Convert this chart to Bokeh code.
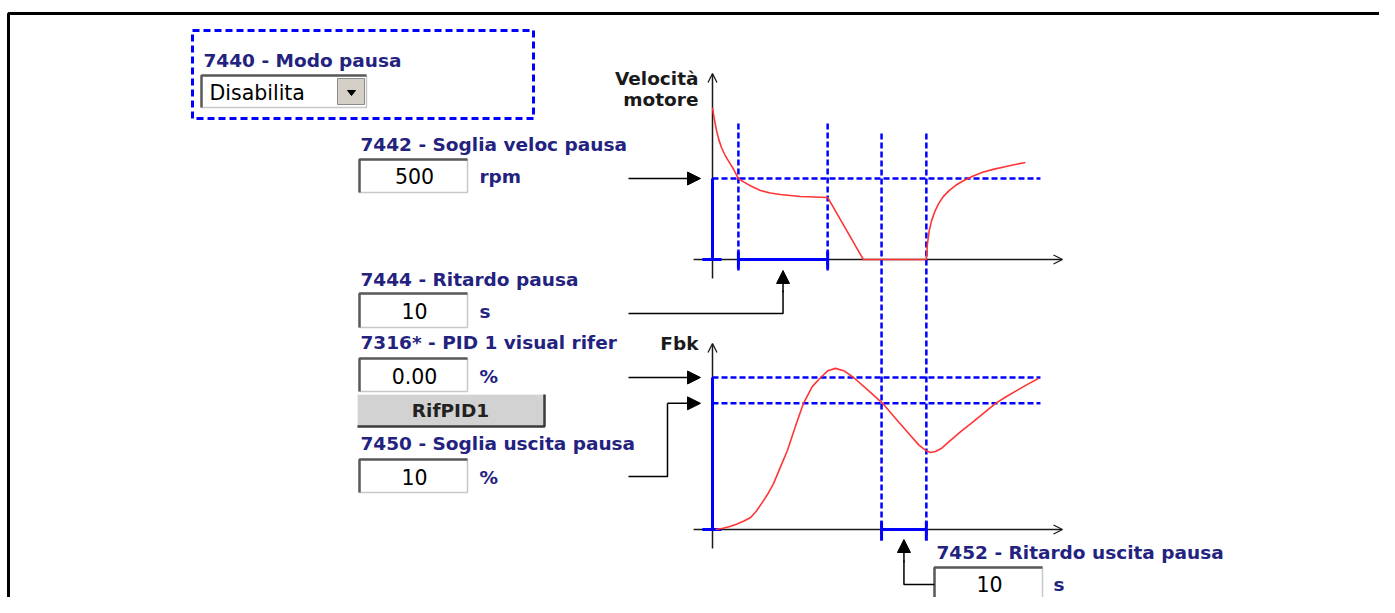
from bokeh.plotting import figure
from bokeh.models import Range1d, Arrow, NormalHead, OpenHead
from bokeh.core.properties import value
from bokeh.embed import file_html
from bokeh.resources import INLINE

# ---------------- data ----------------
# Motor speed (rpm) versus time (arbitrary time units)
speed_t = [0, 0.5, 1.1, 1.8, 2.6, 3.5, 4.5, 5.8, 7.4, 9.0, 10.8, 13.7, 16.5, 19.4,
           25.1, 32.9, 43.1, 61.1, 61.4, 61.9, 62.6, 63.5, 64.6, 66.0, 67.6, 69.5,
           71.8, 74.5, 77.4, 80.5, 83.6, 86.5, 89.4]
speed_rpm = [938, 870, 800, 740, 690, 648, 610, 565, 500, 478, 455, 426, 411, 401,
             389, 383, 0, 0, 95, 175, 240, 295, 345, 390, 425, 458,
             488, 515, 540, 558, 572, 586, 599]

# Feedback (%) versus time
fbk_t = [0.9, 3.0, 5.0, 7.0, 9.0, 10.9, 12.5, 14.0, 15.7, 17.4, 19.4, 21.4, 23.7,
         26.0, 28.5, 30.9, 33.0, 35.1, 37.5, 40.3, 44.5, 48.6, 52.5, 56.5, 59.0,
         60.9, 62.3, 63.7, 65.5, 68.0, 71.0, 74.0, 77.5, 80.9, 84.0, 87.0, 90.0, 93.1]
fbk_pct = [0, 0.8, 2.0, 3.6, 5.6, 7.9, 12, 17, 23, 30, 41, 52, 68,
           83, 94, 100, 104.5, 106, 104.5, 100, 91.5, 83, 72.5, 62, 55.5,
           52, 50.7, 51.3, 53.5, 58.6, 64.5, 70, 76.5, 83, 87.5, 91.5, 95.5, 99.3]

speed_threshold = 500        # rpm  (7442)
fbk_setpoint = 100           # %    (7316 reference)
fbk_exit_threshold = 83      # %    (7450)
pause_delay_t = [7.4, 32.9]  # 7444 delay window
exit_delay_t = [48.3, 61.1]  # 7452 delay window
t_line_end = 93.7

label_texts = ["7440 - Modo pausa", "7442 - Soglia veloc pausa", "7444 - Ritardo pausa",
               "7316* - PID 1 visual rifer", "7450 - Soglia uscita pausa",
               "7452 - Ritardo uscita pausa"]
field_values = ["500", "10", "0.00", "10", "10"]
field_units = ["rpm", "s", "%", "%", "s"]
dropdown_value = "Disabilita"
button_text = "RifPID1"
axis_titles = ["Velocità", "motore", "Fbk"]

# ---------------- layout constants ----------------
W, H = 1379, 597
T_X0, T_K = 712, 3.5          # x of t=0, px per time unit
RPM_Y0, RPM_S = 259, 0.162    # y of 0 rpm, px per rpm
FBK_Y0, FBK_S = 529, 1.52     # y of 0 %, px per %

BLUE = "#0000ff"
RED = "#ff3535"
NAVY = "#23237f"
AX = "#1a1a1a"
LBL = 18.5

def tx(t):
    return T_X0 + t * T_K

p = figure(width=W, height=H,
           x_range=Range1d(0, W), y_range=Range1d(H, 0),
           output_backend="svg", toolbar_location=None, min_border=0,
           x_axis_location=None, y_axis_location=None,
           background_fill_color="white", border_fill_color="white")
p.grid.grid_line_color = None
p.outline_line_color = None
p.extra_x_ranges = {"t": Range1d((0 - T_X0) / T_K, (W - T_X0) / T_K)}
p.extra_y_ranges = {
    "rpm": Range1d((RPM_Y0 - H) / RPM_S, (RPM_Y0 - 0) / RPM_S),
    "fbk": Range1d((FBK_Y0 - H) / FBK_S, (FBK_Y0 - 0) / FBK_S),
}

def txt(x, y, s, size, color, bold=False, align="left", font="DejaVu Sans"):
    # y is the desired baseline; small correction for the renderer's baseline placement
    p.text(x=[x], y=[y - 0.36 * size], text=[s], text_font=value(font),
           text_font_size=f"{size}px", text_font_style="bold" if bold else "normal",
           text_color=color, text_align=align, text_baseline="alphabetic")

def inbox(x0, y0, x1, y1):
    p.quad(left=[x0], right=[x1], top=[y0], bottom=[y1], fill_color="white",
           line_color="#c8c8c8", line_width=1.5)
    p.line(x=[x0, x0, x1], y=[y1, y0, y0], line_color="#5a5a5a", line_width=2.5)

# ---------------- outer frame ----------------
p.line(x=[8, 8, W], y=[H, 13, 13], line_color="black", line_width=3)

# ---------------- mode box ----------------
p.line(x=[192, 533, 533, 192, 192], y=[30, 30, 118, 118, 30], line_color=BLUE,
       line_width=3, line_dash="7 4")
txt(203, 67, label_texts[0], LBL, NAVY, bold=True)
inbox(201, 75, 366, 107)
p.quad(left=[337], right=[364], top=[78], bottom=[104], fill_color="#d4d0c8",
       line_color="#8a8a8a", line_width=1)
p.patch(x=[347, 355, 351], y=[90, 90, 95], fill_color="black", line_color="black")
txt(209, 100, dropdown_value, 20.5, "black")

# ---------------- input fields ----------------
fields = [  # (label idx, label baseline, box y0, box y1, value baseline)
    (1, 151, 159, 192, 183),
    (2, 286, 293, 327, 318),
    (3, 349, 358, 391, 383),
    (4, 450, 459, 492, 484),
]
for i, (li, lb, by0, by1, vb) in enumerate(fields):
    txt(360, lb, label_texts[li], LBL, NAVY, bold=True)
    inbox(359, by0, 467, by1)
    txt(414, vb, field_values[i], 20.5, "black", align="center")
    txt(479, vb, field_units[i], LBL, NAVY, bold=True)

# exit delay field (kept inside the canvas)
txt(936, 559, label_texts[5], LBL, NAVY, bold=True)
inbox(934, 567, 1042, 601)
txt(989, 591, field_values[4], 20.5, "black", align="center")
txt(1053, 591, field_units[4], LBL, NAVY, bold=True)

# button
p.quad(left=[357], right=[544], top=[394], bottom=[426], fill_color="#d2d2d2",
       line_color="#eeeeee", line_width=1)
p.line(x=[357, 544, 544], y=[426, 426, 394], line_color="#3c3c3c", line_width=2.5)
txt(450, 417, button_text, 18.5, "#222222", bold=True, align="center")

# ---------------- axis titles ----------------
txt(698, 85, axis_titles[0], LBL, AX, bold=True, align="right")
txt(698, 106, axis_titles[1], LBL, AX, bold=True, align="right")
txt(698, 350, axis_titles[2], LBL, AX, bold=True, align="right")

# ---------------- axes (drawn beneath the glyphs) ----------------
for yr in ("rpm", "fbk"):
    s = RPM_S if yr == "rpm" else FBK_S
    p.add_layout(Arrow(end=OpenHead(size=9, line_color=AX, line_width=1.3),
                       x_start=-5.4, x_end=100.0, y_start=0, y_end=0,
                       line_color=AX, line_width=1.5, level="underlay",
                       x_range_name="t", y_range_name=yr))
    p.add_layout(Arrow(end=OpenHead(size=9, line_color=AX, line_width=1.3),
                       x_start=0, x_end=0, y_start=-19 / s, y_end=186 / s,
                       line_color=AX, line_width=1.5, level="underlay",
                       x_range_name="t", y_range_name=yr))

# ---------------- dashed guides ----------------
dash = dict(line_color=BLUE, line_width=2.5, line_dash="6 3")
p.segment(x0=pause_delay_t, x1=pause_delay_t, y0=[123] * 2, y1=[270] * 2,
          x_range_name="t", **dash)
p.segment(x0=exit_delay_t, x1=exit_delay_t, y0=[133] * 2, y1=[540] * 2,
          x_range_name="t", **dash)
p.segment(x0=[0], x1=[t_line_end], y0=[speed_threshold], y1=[speed_threshold],
          x_range_name="t", y_range_name="rpm", **dash)
p.segment(x0=[0, 0], x1=[t_line_end] * 2, y0=[fbk_setpoint, fbk_exit_threshold],
          y1=[fbk_setpoint, fbk_exit_threshold],
          x_range_name="t", y_range_name="fbk", **dash)

# ---------------- solid blue marks ----------------
solid = dict(line_color=BLUE, line_width=3)
p.segment(x0=[0], x1=[0], y0=[0], y1=[speed_threshold], x_range_name="t",
          y_range_name="rpm", **solid)
p.segment(x0=[0], x1=[0], y0=[0], y1=[fbk_setpoint], x_range_name="t",
          y_range_name="fbk", **solid)
for yr in ("rpm", "fbk"):
    p.segment(x0=[-2.9], x1=[2.6], y0=[0], y1=[0], x_range_name="t",
              y_range_name=yr, **solid)
p.segment(x0=[pause_delay_t[0]], x1=[pause_delay_t[1]], y0=[0], y1=[0],
          x_range_name="t", y_range_name="rpm", **solid)
p.segment(x0=pause_delay_t, x1=pause_delay_t, y0=[RPM_Y0 - 8] * 2, y1=[RPM_Y0 + 9] * 2,
          x_range_name="t", **solid)
p.segment(x0=[exit_delay_t[0]], x1=[exit_delay_t[1]], y0=[0], y1=[0],
          x_range_name="t", y_range_name="fbk", **solid)
p.segment(x0=exit_delay_t, x1=exit_delay_t, y0=[FBK_Y0 - 8] * 2, y1=[FBK_Y0 + 11] * 2,
          x_range_name="t", **solid)

# ---------------- curves ----------------
p.line(speed_t, speed_rpm, line_color=RED, line_width=1.6, x_range_name="t",
       y_range_name="rpm", line_join="round")
p.line(fbk_t, fbk_pct, line_color=RED, line_width=1.6, x_range_name="t",
       y_range_name="fbk", line_join="round")

# ---------------- pointer arrows ----------------
def head():
    return NormalHead(size=13, fill_color="black", line_color="black", line_width=1)

p.add_layout(Arrow(end=head(), x_start=628, x_end=700, y_start=speed_threshold,
                   y_end=speed_threshold, line_color="black", line_width=1.5,
                   y_range_name="rpm"))
p.add_layout(Arrow(end=head(), x_start=628, x_end=700, y_start=fbk_setpoint,
                   y_end=fbk_setpoint, line_color="black", line_width=1.5,
                   y_range_name="fbk"))
y_exit = FBK_Y0 - fbk_exit_threshold * FBK_S
p.line(x=[628, 667, 667], y=[476, 476, y_exit], line_color="black", line_width=1.5)
p.add_layout(Arrow(end=head(), x_start=667, x_end=700, y_start=y_exit, y_end=y_exit,
                   line_color="black", line_width=1.5))
xm = tx(sum(pause_delay_t) / 2)
p.line(x=[628, xm, xm], y=[313, 313, 290], line_color="black", line_width=1.5)
p.add_layout(Arrow(end=head(), x_start=xm, x_end=xm, y_start=292, y_end=270,
                   line_color="black", line_width=1.5))
xe = tx(sum(exit_delay_t) / 2)
p.line(x=[934, xe, xe], y=[584, 584, 560], line_color="black", line_width=1.5)
p.add_layout(Arrow(end=head(), x_start=xe, x_end=xe, y_start=562, y_end=539,
                   line_color="black", line_width=1.5))

open("out.html", "w").write(file_html(p, INLINE))
